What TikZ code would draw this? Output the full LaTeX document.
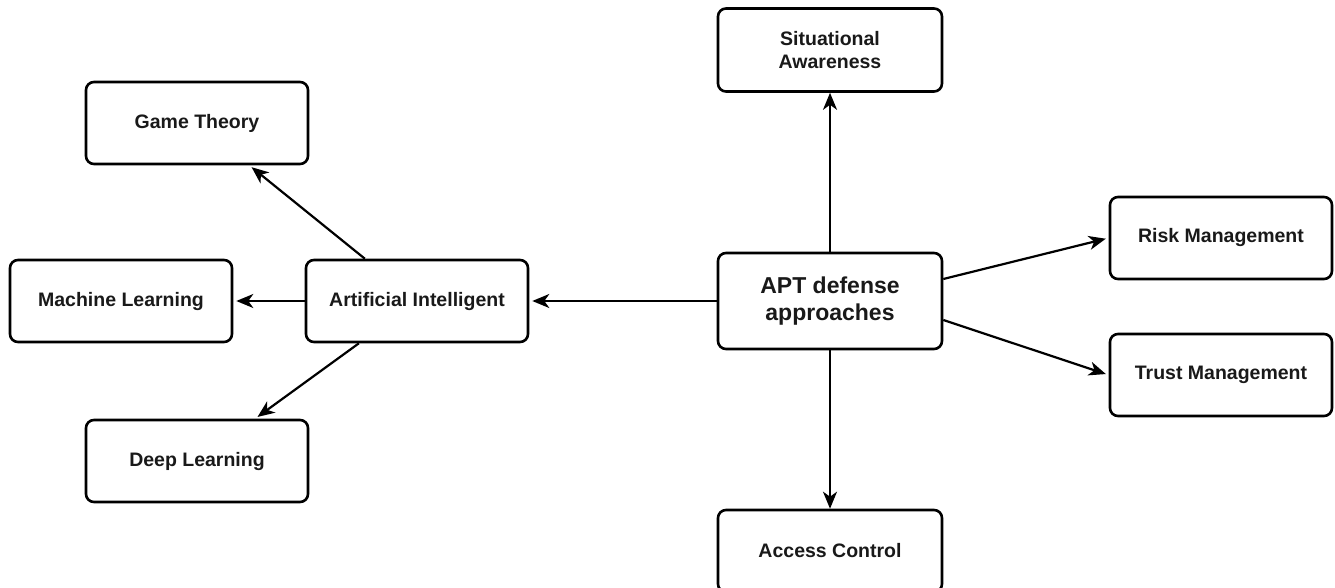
\documentclass[tikz,border=0pt]{standalone}
\usepackage{fontspec}
\setmainfont{Liberation Sans}
\usetikzlibrary{arrows.meta}

\tikzset{
  box/.style={draw, line width=2.6pt, rounded corners=8pt, fill=white,
    minimum width=222pt, minimum height=82pt, align=center,
    font=\bfseries\fontsize{19.5}{23}\selectfont, text=black!90},
  link/.style={-{Stealth[length=17pt,width=14pt,inset=5pt]}, line width=2.2pt,
    shorten >=3pt}
}

\begin{document}
\begin{tikzpicture}[x=1pt, y=-1pt]
\useasboundingbox (0,0) rectangle (1335,588);

% Centro
\node[box, minimum width=224pt, minimum height=96pt,
  font=\bfseries\fontsize{23}{27}\selectfont] (apt) at (830,301) {APT defense\\approaches};

% Ramas del centro
\node[box, minimum width=224pt, minimum height=83pt] (sa) at (830,50) {Situational\\Awareness};
\node[box] (risk) at (1221,238) {Risk Management};
\node[box] (trust) at (1221,375) {Trust Management};
\node[box, minimum width=224pt] (ac) at (830,551) {Access Control};
\node[box] (ai) at (417,301) {Artificial Intelligent};

% Ramas de IA
\node[box] (gt) at (197,123) {Game Theory};
\node[box] (ml) at (121,301) {Machine Learning};
\node[box] (dl) at (197,461) {Deep Learning};

% Flechas
\draw[link, shorten >=0pt] (apt) -- (sa);
\draw[link, shorten >=0pt] (apt) -- (ac);
\draw[link] (apt) -- (ai);
\draw[link] ([yshift=22pt]apt.east) -- (risk.west);
\draw[link] ([yshift=-19pt]apt.east) -- (trust.west);
\draw[link] (ai) -- (gt);
\draw[link] (ai) -- (ml);
\draw[link] (ai) -- (dl);
\end{tikzpicture}
\end{document}
